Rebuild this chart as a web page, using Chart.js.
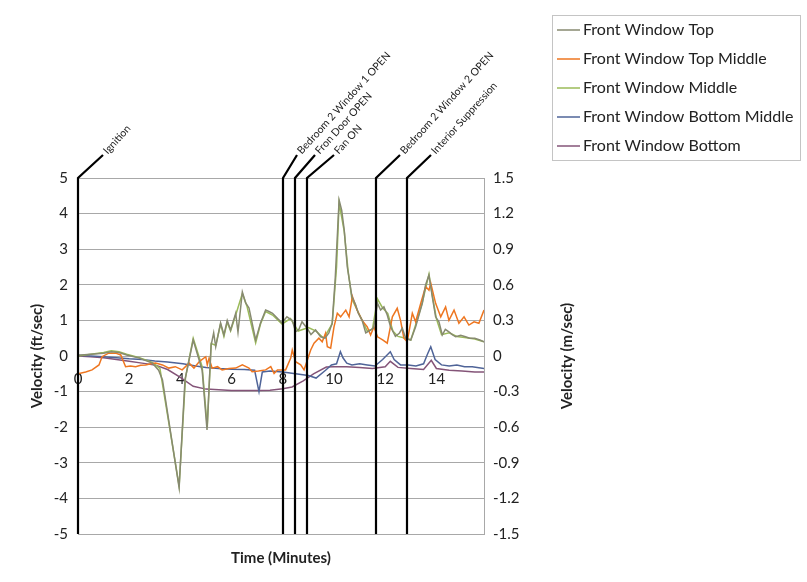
<!DOCTYPE html>
<html><head><meta charset="utf-8">
<script src="https://cdn.jsdelivr.net/npm/chart.js@4/dist/chart.umd.min.js"></script>
<style>html,body{margin:0;padding:0;background:#fff}#wrap{width:807px;height:582px}</style>
</head><body><div id="wrap"><canvas id="c" width="807" height="582"></canvas></div>
<script>
// ---- data (time in minutes, velocity in ft/sec) ----
const seriesNames = ["Front Window Top", "Front Window Top Middle", "Front Window Middle", "Front Window Bottom Middle", "Front Window Bottom"];

const topT = [0,0.5,1.0,1.3,1.6,1.9,2.4,2.9,3.15,3.3,3.95,4.18,4.5,4.85,5.04,5.2,5.3,5.38,5.57,5.7,5.83,5.96,6.16,6.25,6.42,6.55,6.68,6.94,7.13,7.33,7.46,7.6,7.8,7.97,8.16,8.37,8.5,8.63,8.75,8.95,9.1,9.28,9.48,9.65,9.8,9.93,10.05,10.2,10.3,10.4,10.52,10.7,10.85,10.95,11.1,11.24,11.43,11.55,11.7,11.82,11.95,12.08,12.21,12.4,12.55,12.67,12.8,13.0,13.19,13.3,13.45,13.58,13.71,13.84,13.97,14.1,14.23,14.35,14.49,14.62,14.75,14.95,15.14,15.3,15.5,15.7,15.86];
const topV = [0.02,0.05,0.08,0.12,0.1,0.03,-0.06,-0.2,-0.4,-0.67,-3.7,-0.67,0.45,-0.4,-2.08,0.3,0.65,0.26,0.93,0.59,1.0,0.73,1.2,0.67,1.8,1.49,1.35,0.45,0.93,1.29,1.25,1.2,1.05,0.93,1.1,1.0,0.68,0.75,0.96,0.78,0.6,0.73,0.54,0.5,0.65,0.93,2.2,4.38,4.1,3.54,2.5,1.67,1.43,1.2,1.0,0.65,0.73,0.8,1.48,1.29,1.38,1.15,0.82,0.55,0.64,0.78,0.5,0.45,0.82,1.1,1.48,2.0,2.27,1.67,1.1,0.96,0.59,0.75,0.68,0.6,0.54,0.58,0.54,0.5,0.5,0.45,0.4];

const topMidT = [0,0.3,0.55,0.82,0.94,1.2,1.47,1.67,1.86,2.05,2.25,2.45,2.64,2.85,3.03,3.3,3.55,3.8,4.07,4.34,4.53,4.75,4.99,5.05,5.12,5.24,5.45,5.63,5.9,6.16,6.42,6.68,6.8,7.05,7.33,7.53,7.66,7.79,8.11,8.31,8.37,8.5,8.7,8.83,8.96,9.09,9.22,9.41,9.54,9.67,9.74,9.87,10.0,10.13,10.26,10.46,10.59,10.72,10.9,11.1,11.3,11.43,11.56,11.7,11.9,12.08,12.28,12.47,12.6,12.73,12.86,13.06,13.19,13.39,13.58,13.71,13.78,13.97,14.17,14.36,14.49,14.69,14.88,15.08,15.27,15.47,15.66,15.86];
const topMidV = [-0.5,-0.45,-0.39,-0.25,-0.02,0.08,0.08,0.03,-0.3,-0.28,-0.3,-0.26,-0.25,-0.22,-0.2,-0.25,-0.34,-0.3,-0.39,-0.2,-0.34,-0.15,-0.02,-0.25,-0.06,-0.34,-0.3,-0.39,-0.35,-0.34,-0.25,-0.34,-0.44,-0.42,-0.39,-0.3,-0.49,-0.39,-0.39,-0.06,0.17,-0.16,-0.25,-0.39,-0.11,0.17,0.36,0.5,0.4,0.64,0.26,0.22,0.82,1.2,1.1,1.29,1.1,1.67,1.29,1.0,0.82,0.59,0.82,0.54,0.45,0.36,1.1,1.34,1.0,0.5,0.4,1.2,0.96,1.48,1.95,1.85,2.05,1.48,1.1,1.38,1.0,1.29,0.92,1.1,0.87,0.96,0.92,1.29];

const midT = [0,0.5,1.0,1.3,1.6,1.9,2.4,2.9,3.2,3.95,4.2,4.5,4.85,5.05,5.2,5.38,5.57,5.7,5.83,5.96,6.16,6.42,6.6,6.94,7.13,7.33,7.6,7.97,8.3,8.6,9.0,9.3,9.6,9.93,10.1,10.2,10.4,10.55,10.7,10.9,11.1,11.3,11.5,11.7,11.9,12.1,12.3,12.5,12.8,13.0,13.2,13.45,13.71,13.84,14.0,14.2,14.5,14.8,15.1,15.5,15.86];
const midV = [0.0,0.05,0.1,0.15,0.12,0.05,-0.05,-0.18,-0.35,-3.65,-0.6,0.5,-0.3,-2.0,0.35,0.3,0.9,0.55,0.95,0.7,1.15,1.75,1.4,0.37,0.9,1.25,1.15,0.9,1.05,0.7,0.8,0.7,0.5,0.9,2.5,4.3,3.5,2.4,1.6,1.3,1.0,0.7,0.75,1.6,1.35,1.2,0.7,0.55,0.5,0.45,0.9,1.5,2.3,1.7,1.05,0.6,0.65,0.55,0.52,0.48,0.4];

const botMidT = [0,0.5,1.0,1.5,2.0,2.5,3.0,3.5,4.1,4.6,5.0,5.5,6.0,6.5,6.9,7.07,7.2,7.5,8.0,8.5,9.0,9.3,9.67,9.9,10.1,10.25,10.35,10.5,10.7,11.0,11.3,11.6,11.9,12.2,12.35,12.6,12.9,13.2,13.5,13.65,13.78,13.95,14.2,14.5,14.8,15.1,15.4,15.86];
const botMidV = [0.02,0.0,-0.02,-0.05,-0.08,-0.1,-0.14,-0.17,-0.22,-0.28,-0.32,-0.35,-0.37,-0.38,-0.4,-1.0,-0.45,-0.42,-0.45,-0.5,-0.55,-0.62,-0.4,-0.25,-0.22,0.12,-0.05,-0.2,-0.25,-0.22,-0.25,-0.28,-0.1,0.12,-0.1,-0.25,-0.25,-0.28,-0.22,0.05,0.26,-0.1,-0.25,-0.28,-0.25,-0.3,-0.3,-0.35];

const botT = [0,0.5,1.0,1.5,2.0,2.5,3.0,3.5,4.0,4.5,5.0,5.5,6.0,6.5,7.0,7.5,8.0,8.36,8.8,9.2,9.7,10.0,10.5,11.0,11.5,12.0,12.2,12.5,13.0,13.5,13.8,14.0,14.5,15.0,15.5,15.86];
const botV = [0.0,-0.02,-0.05,-0.1,-0.15,-0.2,-0.25,-0.38,-0.6,-0.85,-0.93,-0.95,-0.97,-0.97,-0.97,-0.96,-0.92,-0.87,-0.7,-0.5,-0.31,-0.3,-0.3,-0.32,-0.35,-0.3,-0.15,-0.32,-0.35,-0.38,-0.12,-0.35,-0.4,-0.42,-0.45,-0.45];

const xTickValues = [0, 2, 4, 6, 8, 10, 12, 14];

const eventTimes  = [0, 8.0, 8.46, 8.96, 11.63, 12.84];
const eventLabels = ["Ignition", "Bedroom 2 Window 1 OPEN", "Fron Door OPEN", "Fan ON", "Bedroom 2 Window 2 OPEN", "Interior Suppression"];

const leftTitle = "Velocity (ft/sec)";
const rightTitle = "Velocity (m/sec)";
const xTitle = "Time (Minutes)";

// ---- styles ----
const colors = ["#878a70", "#ee7620", "#9bbb59", "#4f6498", "#845478"];
const leaderDx = [25, 14, 20, 27, 24, 24];
const FONT = "Lato, 'Open Sans', sans-serif";

const pairs = (ts, vs) => ts.map((t, i) => ({x: t, y: vs[i]}));
const allT = [topT, topMidT, midT, botMidT, botT];
const allV = [topV, topMidV, midV, botMidV, botV];
const drawOrder = [0, 1, 2, 3, 4];

const datasets = seriesNames.map((name, i) => ({
  label: name,
  data: pairs(allT[i], allV[i]),
  borderColor: colors[i],
  backgroundColor: colors[i],
  borderWidth: 1.5,
  pointRadius: 0,
  tension: 0,
  order: drawOrder[i],
  yAxisID: 'y',
  xAxisID: 'x'
}));

const eventsPlugin = {
  id: 'events',
  afterDatasetsDraw(chart) {
    const ctx = chart.ctx, xs = chart.scales.x, a = chart.chartArea;
    ctx.save();
    eventTimes.forEach((t, i) => {
      const px = Math.round(xs.getPixelForValue(t));
      const ex = px + leaderDx[i], ey = a.top - 23;
      ctx.strokeStyle = '#000';
      ctx.lineWidth = 2.2;
      ctx.beginPath();
      ctx.moveTo(px, a.bottom);
      ctx.lineTo(px, a.top);
      ctx.lineTo(ex, ey);
      ctx.stroke();
      ctx.save();
      ctx.translate(ex + 1, ey - 1);
      ctx.rotate(-48 * Math.PI / 180);
      ctx.fillStyle = '#222';
      ctx.font = "10.5px " + FONT;
      ctx.textAlign = 'left';
      ctx.textBaseline = 'middle';
      ctx.fillText(eventLabels[i], 2, 0);
      ctx.restore();
    });
    ctx.restore();
  },
  afterDraw(chart) {
    const ctx = chart.ctx, a = chart.chartArea;
    ctx.save();
    // right axis title, reading bottom to top
    ctx.save();
    ctx.translate(567, (a.top + a.bottom) / 2);
    ctx.rotate(-Math.PI / 2);
    ctx.font = "bold 15px " + FONT;
    ctx.fillStyle = '#222';
    ctx.textAlign = 'center';
    ctx.textBaseline = 'middle';
    ctx.fillText(rightTitle, 0, 0);
    ctx.restore();
    // legend
    const bx = 552, by = 15, bw = 248, bh = 145;
    ctx.strokeStyle = '#c4c4c4';
    ctx.lineWidth = 1;
    ctx.strokeRect(bx + 0.5, by + 0.5, bw, bh);
    ctx.font = "16px " + FONT;
    ctx.textBaseline = 'middle';
    ctx.fillStyle = '#222';
    chart.data.datasets.forEach((ds, i) => {
      const y = by + 15 + i * 29;
      ctx.strokeStyle = ds.borderColor;
      ctx.lineWidth = 1.5;
      ctx.beginPath();
      ctx.moveTo(bx + 5, y);
      ctx.lineTo(bx + 28, y);
      ctx.stroke();
      ctx.fillText(ds.label, bx + 31, y);
    });
    ctx.restore();
  }
};

const fmt2 = v => { const r = Math.round(v * 10) / 10; return r === 0 ? '0' : r.toFixed(1); };

new Chart(document.getElementById('c'), {
  type: 'line',
  data: { datasets },
  plugins: [eventsPlugin],
  options: {
    responsive: false,
    animation: false,
    devicePixelRatio: 1,
    layout: { padding: { top: 178, right: 223, left: 0, bottom: 0 } },
    plugins: { legend: { display: false }, tooltip: { enabled: false } },
    scales: {
      x: {
        type: 'linear', min: 0, max: 15.86,
        position: { y: 0 },
        grid: { display: false, drawTicks: false },
        border: { display: false },
        ticks: { padding: 14, color: '#222', font: { family: FONT, size: 15 }, maxRotation: 0, autoSkip: false },
        afterBuildTicks: s => { s.ticks = xTickValues.map(v => ({ value: v })); }
      },
      x2: {
        type: 'linear', min: 0, max: 15.86, position: 'bottom',
        grid: { display: false, drawTicks: false },
        border: { display: false },
        ticks: { display: false },
        title: { display: true, text: xTitle, color: '#222', font: { family: FONT, size: 15, weight: 'bold' }, padding: { top: 0, bottom: 15 } },
        afterFit: s => { s.height = 48; }
      },
      y: {
        type: 'linear', min: -5, max: 5, position: 'left',
        grid: { color: '#a8a8a8', lineWidth: 1, drawTicks: false },
        border: { display: false },
        ticks: { stepSize: 1, padding: 10, color: '#222', font: { family: FONT, size: 15 } },
        title: { display: true, text: leftTitle, color: '#222', font: { family: FONT, size: 15, weight: 'bold' }, padding: { top: 28, bottom: 0 } },
        afterFit: s => { s.width = 78; }
      },
      y2: {
        type: 'linear', min: -1.5, max: 1.5, position: 'right',
        grid: { drawOnChartArea: false, drawTicks: false },
        border: { display: true, color: '#a8a8a8' },
        ticks: { stepSize: 0.3, padding: 9, color: '#222', font: { family: FONT, size: 15 }, callback: fmt2 },
        title: { display: false },
        afterFit: s => { s.width = 100; }
      }
    }
  }
});
</script></body></html>
